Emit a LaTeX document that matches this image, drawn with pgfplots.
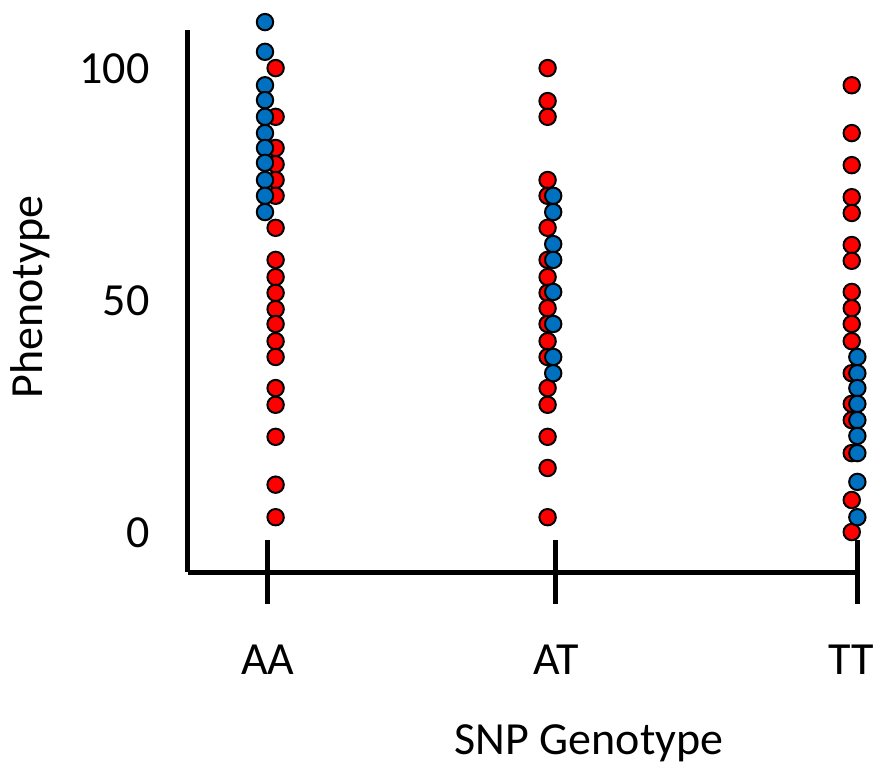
\documentclass[border=0pt]{standalone}
\usepackage{fontspec}
\setmainfont{Carlito}
\usepackage{pgfplots}
\pgfplotsset{compat=1.18}
\definecolor{snpred}{RGB}{255,0,0}
\definecolor{snpblue}{RGB}{0,112,192}

\begin{document}
\begin{tikzpicture}
\begin{axis}[
  name=ax,
  scale only axis,
  width=336pt, height=271pt,
  xmin=0.729, xmax=3.007,
  ymin=-8.4, ymax=108.3,
  axis x line=bottom, axis y line=left,
  axis line style={-, line width=2.5pt},
  xtick={1,1.976,3},
  xticklabels={AA,AT,TT\hspace*{7pt}},
  ytick={0,50,100},
  tick align=center,
  major tick length=31.5pt,
  xtick style={line width=2.5pt, black},
  ytick style={draw=none},
  font=\fontsize{23}{27.6}\selectfont,
  /pgf/number format/assume math mode=true,
  xticklabel style={yshift=-17pt},
  yticklabel style={xshift=0pt},
  xlabel={SNP Genotype},
  ylabel={Phenotype},
  xlabel style={at={(axis description cs:0.597,-0.336)}, anchor=base},
  ylabel style={at={(axis description cs:-0.217,0.507)}, anchor=base},
  clip=false,
]
% red
\addplot[only marks, mark=*, mark size=4.1pt,
  mark options={fill=snpred, draw=black, line width=1pt}] table {
x y
1.026 100.1
1.026 89.6
1.026 82.9
1.026 79.4
1.026 76.0
1.026 72.6
1.026 65.7
1.026 58.8
1.026 55.1
1.026 51.7
1.026 48.2
1.026 45.0
1.026 41.3
1.026 37.9
1.026 31.2
1.026 27.6
1.026 20.7
1.026 10.4
1.026 3.4
1.948 100.1
1.948 93.0
1.948 89.6
1.948 76.0
1.948 72.6
1.948 65.7
1.948 58.8
1.948 55.1
1.948 51.7
1.948 48.4
1.948 45.0
1.948 41.3
1.948 37.9
1.948 31.2
1.948 27.6
1.948 20.7
1.948 14.0
1.948 3.4
2.979 96.4
2.979 86.1
2.979 79.2
2.979 72.3
2.979 68.9
2.979 62.0
2.979 58.6
2.979 51.9
2.979 48.4
2.979 45.0
2.979 41.3
2.979 34.4
2.979 27.8
2.979 24.3
2.979 17.2
2.979 7.1
2.979 0.2
};
% blue
\addplot[only marks, mark=*, mark size=4.1pt,
  mark options={fill=snpblue, draw=black, line width=1pt}] table {
x y
0.990 110.0
0.990 103.6
0.990 96.4
0.990 93.2
0.990 89.6
0.990 86.1
0.990 82.9
0.990 79.7
0.990 76.0
0.990 72.6
0.990 69.1
1.967 72.6
1.967 69.1
1.967 62.2
1.967 58.8
1.967 51.9
1.967 45.0
1.967 37.9
1.967 34.4
2.998 37.9
2.998 34.4
2.998 31.2
2.998 27.8
2.998 24.3
2.998 20.9
2.998 17.2
2.998 11.0
2.998 3.4
};
\end{axis}
\pgfresetboundingbox
\path[use as bounding box] (ax.south west) ++(-94pt,-96pt) rectangle ++(438pt,382pt);
\end{tikzpicture}
\end{document}
